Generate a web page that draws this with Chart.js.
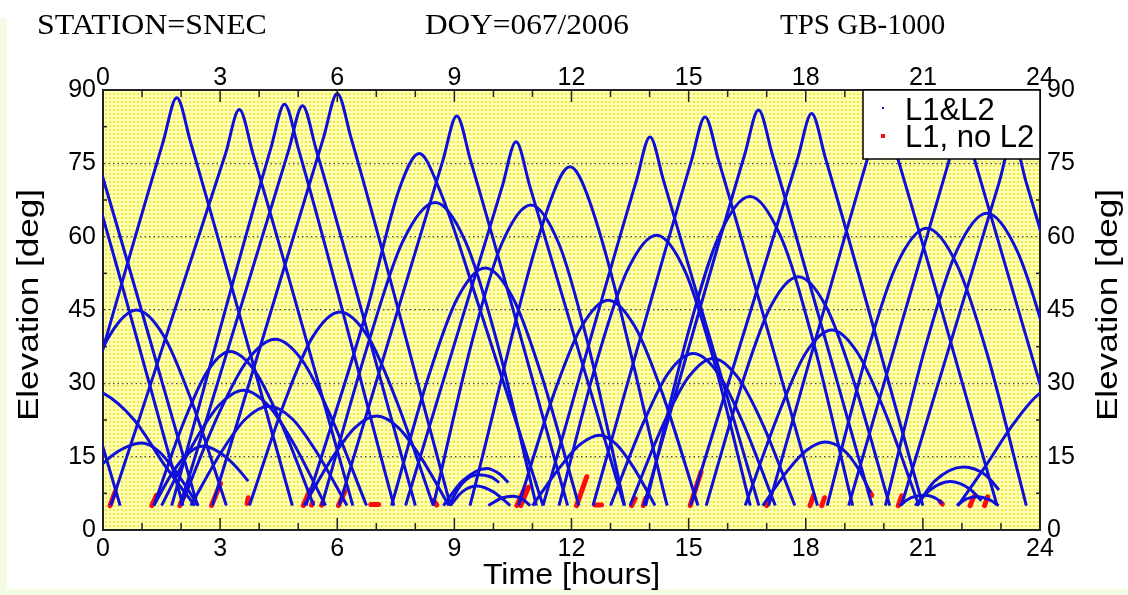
<!DOCTYPE html>
<html>
<head>
<meta charset="utf-8">
<script src="https://cdn.jsdelivr.net/npm/chart.js@4.4.1/dist/chart.umd.min.js"></script>
<style>
  body { margin: 0; background: #ffffff; }
  canvas { display: block; }
</style>
</head>
<body>
<canvas id="elevChart" width="1128" height="595"></canvas>
<script>
// Tick labels
const hourTicks = [0, 3, 6, 9, 12, 15, 18, 21, 24];
const hourMinor = [1, 2, 4, 5, 7, 8, 10, 11, 13, 14, 16, 17, 19, 20, 22, 23];
const elevTicks = [0, 15, 30, 45, 60, 75, 90];
const elevMinor = [7.5, 22.5, 37.5, 52.5, 67.5, 82.5];

// Satellite passes, [time h, elevation deg] (L1&L2)
const pass01 = [[-3.4,5],[-0.85,76],[-0.5,85],[-0.15,76],[2.42,5]];
const pass02 = [[-3.7,5],[-1.1,75],[-0.75,84],[-0.4,75],[2.05,5]];
const pass03 = [[-1.0,44],[0.44,5]];
const pass04 = [[-2.6,5],[-1.6,22],[-0.6,29],[0,28],[0.8,22.5],[1.6,13],[2.35,5]];
const pass05 = [[-1.44,5],[-0.52,27],[0.17,39.8],[0.86,45],[1.55,39.8],[2.24,27],[3.16,5]];
const pass06 = [[-1.01,5],[-0.21,12],[0.39,16.1],[0.99,17.8],[1.43,16.1],[1.86,12],[2.44,5]];
const pass07 = [[-1.15,5],[1.54,79.4],[1.89,88.4],[2.24,79.4],[4.85,5]];
const pass08 = [[0.2,5],[3.14,77],[3.49,86],[3.84,77],[6.4,5]];
const pass09 = [[1.3,5],[2.08,22.3],[2.67,32.4],[3.25,36.5],[3.9,32.4],[4.54,22.3],[5.4,5]];
const pass10 = [[1.3,5],[1.8,12],[2.2,15.8],[2.57,17.2],[3.0,15.8],[3.4,13],[3.72,10]];
const pass11 = [[1.5,5],[2.34,18],[2.97,25.5],[3.6,28.6],[4.23,25.5],[4.86,18],[5.7,5]];
const pass12 = [[1.76,5],[4.3,78.1],[4.65,87.1],[5.0,78.1],[7.45,5]];
const pass13 = [[1.98,5],[4.76,77.8],[5.11,86.8],[5.46,77.8],[8.0,5]];
const pass14 = [[2.0,5],[2.96,23.7],[3.69,34.6],[4.41,39],[5.11,34.6],[5.81,23.7],[6.75,5]];
const pass15 = [[2.25,5],[3.05,16.2],[3.65,22.7],[4.25,25.3],[4.85,22.7],[5.45,16.2],[6.25,5]];
const pass16 = [[2.8,5],[5.65,80.3],[6.0,89.3],[6.35,80.3],[8.9,5]];
const pass17 = [[3.75,5],[4.68,26.8],[5.37,39.5],[6.07,44.6],[6.79,39.5],[7.5,26.8],[8.46,5]];
const pass18 = [[5.15,5],[5.9,15.1],[6.45,20.9],[7.01,23.3],[7.57,20.9],[8.12,15.1],[8.86,5]];
const pass19 = [[5.2,5],[6.76,45],[7.6,70],[8.1,77],[8.6,70],[9.66,45],[11.27,5]];
const pass20 = [[5.6,5],[6.83,39.1],[7.67,58.9],[8.51,67],[9.29,58.9],[10.07,39.1],[11.1,5]];
const pass21 = [[6.05,5],[8.71,75.7],[9.06,84.7],[9.41,75.7],[11.9,5]];
const pass22 = [[7.39,5],[8.35,31.7],[9.07,47.3],[9.79,53.6],[10.51,47.3],[11.23,31.7],[12.19,5]];
const pass23 = [[7.75,5],[10.23,70.4],[10.58,79.4],[10.93,70.4],[13.35,5]];
const pass24 = [[8.46,5],[9.46,38.8],[10.21,58.5],[10.96,66.5],[11.68,58.5],[12.4,38.8],[13.36,5]];
const pass25 = [[9.4,5],[11.46,67.3],[11.96,74.3],[12.46,67.3],[14.45,5]];
const pass26 = [[8.72,5],[9.2,10],[9.83,12.6],[10.15,11.5],[10.38,9.7]];
const pass27 = [[8.85,5],[9.2,9.5],[9.6,11.3],[9.95,10.8],[10.15,9.7]];
const pass28 = [[8.9,5],[9.2,7.8],[9.57,9],[10.0,7.8],[10.43,5]];
const pass29 = [[9.87,5],[10.2,6.5],[10.51,6.9],[10.75,6.3],[10.94,5]];
const pass30 = [[10.64,5],[11.56,28.1],[12.25,41.5],[12.94,47],[13.63,41.5],[14.32,28.1],[15.24,5]];
const pass31 = [[11.0,5],[11.71,12.9],[12.22,17.5],[12.73,19.4],[13.15,17.5],[13.58,12.9],[14.14,5]];
const pass32 = [[11.27,5],[13.66,71.4],[14.01,80.4],[14.36,71.4],[16.8,5]];
const pass33 = [[11.68,5],[12.68,35.4],[13.43,53.1],[14.18,60.3],[14.9,53.1],[15.62,35.4],[16.58,5]];
const pass34 = [[12.55,5],[15.07,75.5],[15.42,84.5],[15.77,75.5],[18.3,5]];
const pass35 = [[13.0,5],[13.85,22.1],[14.48,32.1],[15.12,36.1],[15.75,32.1],[16.38,22.1],[17.22,5]];
const pass36 = [[13.5,5],[14.35,21.6],[14.99,31.2],[15.63,35.1],[16.26,31.2],[16.9,21.6],[17.72,5]];
const pass37 = [[13.9,5],[14.97,39.8],[15.77,60],[16.57,68.2],[17.36,60],[18.15,39.8],[19.2,5]];
const pass38 = [[13.85,5],[16.44,76.9],[16.79,85.9],[17.14,76.9],[19.7,5]];
const pass39 = [[15.05,5],[17.8,76.2],[18.15,85.2],[18.5,76.2],[21.0,5]];
const pass40 = [[15.45,5],[16.4,30.7],[17.1,45.7],[17.81,51.8],[18.52,45.7],[19.22,30.7],[20.15,5]];
const pass41 = [[16.45,5],[17.35,24.7],[18.0,36.2],[18.67,40.9],[19.33,36.2],[20.0,24.7],[20.9,5]];
const pass42 = [[16.9,5],[17.54,12.2],[18.02,16.3],[18.5,18],[18.95,16.5],[19.35,12.5],[19.66,7.6]];
const pass43 = [[17.05,5],[19.62,77],[19.97,86],[20.32,77],[22.9,5]];
const pass44 = [[18.55,5],[19.57,36.2],[20.33,54.3],[21.1,61.7],[21.87,54.3],[22.64,36.2],[23.65,5]];
const pass45 = [[19.1,5],[21.65,75],[22.0,84],[22.35,75],[24.9,5]];
const pass46 = [[20.04,5],[21.08,37.9],[21.86,57],[22.64,64.8],[23.42,57],[24.2,37.9],[25.24,5]];
const pass47 = [[20.45,5],[22.95,71],[23.3,80],[23.65,71],[26.1,5]];
const pass48 = [[20.85,5],[21.3,10],[22.04,12.9],[22.6,11.3],[22.95,8.2]];
const pass49 = [[20.8,5],[21.2,8.3],[21.7,9.9],[22.2,8.4],[22.5,6]];
const pass50 = [[20.4,5],[20.7,6.6],[21.06,7.1],[21.35,6.4],[21.5,5.4]];
const pass51 = [[21.87,5],[22.1,6.3],[22.4,6.8],[22.7,6.2],[22.94,5]];
const pass52 = [[21.9,5],[22.6,13],[23.3,21.5],[24.0,28],[24.5,29],[25,28]];

const bluePasses = [pass01, pass02, pass03, pass04, pass05, pass06, pass07, pass08, pass09, pass10,
  pass11, pass12, pass13, pass14, pass15, pass16, pass17, pass18, pass19, pass20,
  pass21, pass22, pass23, pass24, pass25, pass26, pass27, pass28, pass29, pass30,
  pass31, pass32, pass33, pass34, pass35, pass36, pass37, pass38, pass39, pass40,
  pass41, pass42, pass43, pass44, pass45, pass46, pass47, pass48, pass49, pass50,
  pass51, pass52];

// Pieces tracked on L1 only
const red01 = [[0.18,5],[0.31,7.8]];
const red02 = [[1.25,5],[1.37,7.1]];
const red03 = [[1.97,5],[2.19,9.5]];
const red04 = [[2.78,5],[3.01,9.5]];
const red05 = [[3.69,5.4],[3.72,6.6]];
const red06 = [[5.13,5],[5.3,8.2]];
const red07 = [[5.34,5.1],[5.37,5.6]];
const red08 = [[5.6,5.1],[5.63,5.7]];
const red09 = [[6.03,5],[6.2,8]];
const red10 = [[6.86,5.2],[7.06,5.2]];
const red11 = [[8.46,6.1],[8.55,5.1]];
const red12 = [[10.6,5],[10.8,8.5]];
const red13 = [[10.7,5],[10.9,8.8]];
const red14 = [[12.13,5],[12.39,10.9]];
const red15 = [[12.6,5.1],[12.77,5.1]];
const red16 = [[13.54,5],[13.63,6.4]];
const red17 = [[13.84,5],[13.9,6.5]];
const red18 = [[15.04,5],[15.32,11.9]];
const red19 = [[17.0,5],[17.09,6.6]];
const red20 = [[18.11,5],[18.2,7.1]];
const red21 = [[18.41,5],[18.48,6.6]];
const red22 = [[19.62,8],[19.69,7.1]];
const red23 = [[20.37,5],[20.46,7]];
const red24 = [[21.44,5.8],[21.5,5.3]];
const red25 = [[22.21,5],[22.3,6.8]];
const red26 = [[22.58,5],[22.66,6.8]];

const redPieces = [red01, red02, red03, red04, red05, red06, red07, red08, red09, red10,
  red11, red12, red13, red14, red15, red16, red17, red18, red19, red20,
  red21, red22, red23, red24, red25, red26];

const legendLabels = ['L1&L2', 'L1, no L2'];
const headerTexts = ['STATION=SNEC', 'DOY=067/2006', 'TPS GB-1000'];

const BLUE = '#0f0fdc';
const RED = '#ff0d0d';
const tickFont = { family: 'Liberation Sans', size: 25, lineHeight: 1 };

function dotPattern(ctx) {
    const c = document.createElement('canvas');
    c.width = 4; c.height = 4;
    const p = c.getContext('2d');
    p.fillStyle = '#ffffb2';
    p.fillRect(0, 0, 4, 4);
    p.fillStyle = '#efe94c';
    p.fillRect(1, 1, 2, 2);
    return ctx.createPattern(c, 'repeat');
}

// draw text squeezed/stretched along its baseline
function wideText(ctx, text, x, y, sx) {
    ctx.save();
    ctx.translate(x, y);
    ctx.scale(sx, 1);
    ctx.fillText(text, 0, 0);
    ctx.restore();
}

// page + plot background
const backdrop = {
    id: 'backdrop',
    beforeDraw(chart) {
        const { ctx, chartArea: a, width, height } = chart;
        ctx.save();
        ctx.fillStyle = '#f4fce6';
        ctx.fillRect(0, 0, width, height);
        ctx.fillStyle = '#ffffff';
        ctx.fillRect(7, 0, width - 7, height - 6);
        ctx.fillRect(0, 0, 7, 18);
        ctx.fillStyle = dotPattern(ctx);
        ctx.fillRect(a.left, a.top, a.right - a.left, a.bottom - a.top);
        ctx.restore();
    }
};

// inner tick marks, header, axis titles, legend
const decorations = {
    id: 'decorations',
    afterDraw(chart) {
        const { ctx, chartArea: a, scales } = chart;
        const x = scales.x, y = scales.y;
        ctx.save();
        ctx.strokeStyle = '#222';
        ctx.lineWidth = 1.5;
        const seg = (x1, y1, x2, y2) => { ctx.beginPath(); ctx.moveTo(x1, y1); ctx.lineTo(x2, y2); ctx.stroke(); };
        hourTicks.forEach(v => {
            const px = x.getPixelForValue(v);
            seg(px, a.bottom, px, a.bottom - 12);
            seg(px, a.top, px, a.top + 12);
        });
        hourMinor.forEach(v => {
            const px = x.getPixelForValue(v);
            seg(px, a.bottom, px, a.bottom - 7);
            seg(px, a.top, px, a.top + 7);
        });
        elevMinor.forEach(v => {
            const py = y.getPixelForValue(v);
            seg(a.left, py, a.left + 4, py);
            seg(a.right, py, a.right - 4, py);
        });

        // header line
        ctx.fillStyle = '#000';
        ctx.font = '29px "Liberation Serif"';
        ctx.textBaseline = 'alphabetic';
        ctx.textAlign = 'left';
        wideText(ctx, headerTexts[0], 37, 34, 1.1);
        wideText(ctx, headerTexts[1], 425, 34, 1.08);
        wideText(ctx, headerTexts[2], 780, 34, 1.0);

        // axis titles
        ctx.font = '30px "Liberation Sans"';
        ctx.textAlign = 'center';
        ctx.textBaseline = 'middle';
        wideText(ctx, 'Time [hours]', (a.left + a.right) / 2, 576, 1.07);
        [30, 1109].forEach(cx => {
            ctx.save();
            ctx.translate(cx, 305);
            ctx.rotate(-Math.PI / 2);
            ctx.scale(1.17, 1);
            ctx.fillText('Elevation [deg]', 0, 0);
            ctx.restore();
        });

        // legend box
        const lw = 177, lh = 69;
        ctx.fillStyle = '#ffffff';
        ctx.fillRect(a.right - lw, a.top, lw, lh);
        ctx.strokeStyle = '#000';
        ctx.lineWidth = 1.5;
        ctx.strokeRect(a.right - lw, a.top, lw, lh);
        ctx.fillStyle = BLUE;
        ctx.fillRect(a.right - 158, a.top + 17, 2, 2);
        ctx.fillStyle = RED;
        ctx.fillRect(a.right - 159, a.top + 44, 4, 4);
        ctx.fillStyle = '#000';
        ctx.font = '31px "Liberation Sans"';
        ctx.textAlign = 'left';
        ctx.textBaseline = 'alphabetic';
        ctx.fillText(legendLabels[0], a.right - 135, a.top + 30);
        ctx.fillText(legendLabels[1], a.right - 135, a.top + 57);
        ctx.restore();
    }
};

const datasets = [];
bluePasses.forEach((p, i) => {
    datasets.push({
        label: i === 0 ? legendLabels[0] : '',
        data: p,
        borderColor: BLUE,
        borderWidth: 3,
        pointRadius: 0,
        cubicInterpolationMode: 'monotone',
        fill: false
    });
});
redPieces.forEach((p, i) => {
    datasets.push({
        label: i === 0 ? legendLabels[1] : '',
        data: p,
        borderColor: RED,
        borderWidth: 5,
        borderCapStyle: 'round',
        pointRadius: 0,
        fill: false
    });
});

const setTicks = (list) => (scale) => { scale.ticks = list.map(v => ({ value: v })); };

const ctx = document.getElementById('elevChart').getContext('2d');
new Chart(ctx, {
    type: 'line',
    data: { datasets: datasets },
    plugins: [backdrop, decorations],
    options: {
        responsive: false,
        animation: false,
        events: [],
        layout: { padding: 0 },
        plugins: { legend: { display: false }, tooltip: { enabled: false } },
        scales: {
            x: {
                type: 'linear', position: 'bottom', min: 0, max: 24,
                afterBuildTicks: setTicks(hourTicks),
                afterFit: s => { s.height = 65; },
                grid: { display: false, drawTicks: false },
                border: { display: true, color: '#222', width: 2 },
                ticks: { font: tickFont, color: '#000', padding: 7, maxRotation: 0 }
            },
            xTop: {
                type: 'linear', position: 'top', min: 0, max: 24,
                afterBuildTicks: setTicks(hourTicks),
                afterFit: s => { s.height = 90; },
                grid: { display: false, drawTicks: false },
                border: { display: true, color: '#222', width: 2 },
                ticks: { font: tickFont, color: '#000', padding: -1, maxRotation: 0 }
            },
            y: {
                type: 'linear', position: 'left', min: 0, max: 90,
                afterBuildTicks: setTicks(elevTicks),
                afterFit: s => { s.width = 103; },
                grid: {
                    drawTicks: false,
                    lineWidth: 1.2,
                    color: c => (c.tick && (c.tick.value === 0 || c.tick.value === 90)) ? 'rgba(0,0,0,0)' : '#444'
                },
                border: { display: true, color: '#222', width: 2, dash: [1.5, 3] },
                ticks: { font: tickFont, color: '#000', padding: 7 }
            },
            yRight: {
                type: 'linear', position: 'right', min: 0, max: 90,
                afterBuildTicks: setTicks(elevTicks),
                afterFit: s => { s.width = 88; },
                grid: { display: false, drawTicks: false },
                border: { display: true, color: '#222', width: 2 },
                ticks: { font: tickFont, color: '#000', padding: 7 }
            }
        }
    }
});
</script>
</body>
</html>
